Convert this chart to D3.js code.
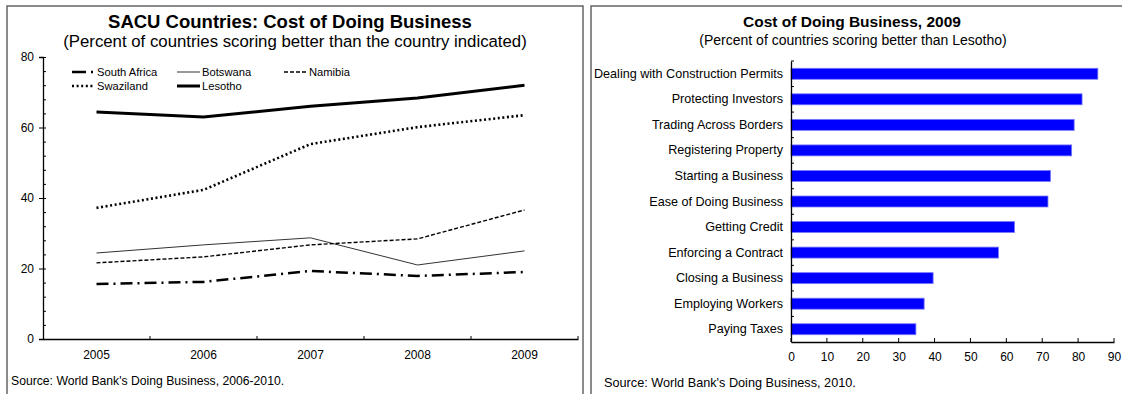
<!DOCTYPE html>
<html>
<head>
<meta charset="utf-8">
<script src="https://cdn.jsdelivr.net/npm/d3@7"></script>
<style>
  html, body { margin: 0; padding: 0; background: #fff; }
  svg { display: block; font-family: "Liberation Sans", Arial, sans-serif; }
  .domain { stroke: #000; }
</style>
</head>
<body>
<svg id="chart" width="1122" height="394"></svg>
<script>
// Left panel: SACU cost of doing business rankings
const years = ["2005", "2006", "2007", "2008", "2009"];
const yTicks = [0, 20, 40, 60, 80];
const southAfrica = [15.6, 16.2, 19.3, 17.9, 19.0];
const botswana    = [24.4, 26.7, 28.7, 21.0, 25.0];
const namibia     = [21.6, 23.3, 26.7, 28.4, 36.6];
const swaziland   = [37.2, 42.3, 55.3, 60.1, 63.5];
const lesotho     = [64.4, 63.0, 66.0, 68.4, 72.0];

// Right panel: Lesotho indicators, 2009
const indicators = [
  "Dealing with Construction Permits", "Protecting Investors", "Trading Across Borders",
  "Registering Property", "Starting a Business", "Ease of Doing Business", "Getting Credit",
  "Enforcing a Contract", "Closing a Business", "Employing Workers", "Paying Taxes"
];
const indicatorValues = [85.5, 81.1, 78.9, 78.2, 72.3, 71.6, 62.3, 57.8, 39.6, 37.1, 34.8];
const xTicks = [0, 10, 20, 30, 40, 50, 60, 70, 80, 90];

const svg = d3.select("#chart");
const font = '"Liberation Sans", Arial, sans-serif';

// Panel frames
svg.append("rect").attr("x", 7).attr("y", 6).attr("width", 576).attr("height", 400)
  .attr("fill", "none").attr("stroke", "#666").attr("stroke-width", 1.5);
svg.append("rect").attr("x", 591).attr("y", 6).attr("width", 540).attr("height", 400)
  .attr("fill", "none").attr("stroke", "#666").attr("stroke-width", 1.5);

// ---------- Left panel ----------
const L = svg.append("g");
L.append("text").attr("x", 290).attr("y", 28).attr("text-anchor", "middle")
  .attr("font-size", 18.5).attr("font-weight", "bold").text("SACU Countries: Cost of Doing Business");
L.append("text").attr("x", 295).attr("y", 47).attr("text-anchor", "middle")
  .attr("font-size", 16.8).text("(Percent of countries scoring better than the country indicated)");

const x = d3.scaleBand().domain(years).range([43, 578]);
const y = d3.scaleLinear().domain([0, 80]).range([339, 57]);

// minor ticks every 4 units, inside the plot
const minor = L.append("g").attr("transform", "translate(43,0)")
  .call(d3.axisRight(y).tickValues(d3.range(0, 81, 4)).tickSize(3).tickFormat(""));
minor.select(".domain").remove();
minor.selectAll("line").attr("stroke", "#000");

const yAx = L.append("g").attr("transform", "translate(43,0)")
  .call(d3.axisLeft(y).tickValues(yTicks).tickSize(4).tickPadding(5));
yAx.selectAll("text").attr("font-size", 12).attr("font-family", font).attr("fill", "#000");
yAx.selectAll("line").attr("stroke", "#000");
yAx.select(".domain").attr("stroke-width", 1.3);

const xAx = L.append("g").attr("transform", "translate(0,339)")
  .call(d3.axisBottom(x).tickSize(0).tickPadding(11));
xAx.selectAll("text").attr("font-size", 12).attr("font-family", font).attr("fill", "#000");
xAx.select(".domain").attr("stroke-width", 1.3);
// boundary ticks between years (pointing up)
L.append("g").selectAll("line").data(years.slice(1).concat(["end"])).join("line")
  .attr("x1", d => d === "end" ? x.range()[1] : x(d))
  .attr("x2", d => d === "end" ? x.range()[1] : x(d))
  .attr("y1", 339).attr("y2", 336).attr("stroke", "#000");

const seriesList = [
  { name: "South Africa", values: southAfrica, width: 2.5, dash: "12,5,2,5", color: "#000" },
  { name: "Botswana", values: botswana, width: 1, dash: null, color: "#333" },
  { name: "Namibia", values: namibia, width: 1.4, dash: "4,2", color: "#000" },
  { name: "Swaziland", values: swaziland, width: 2.6, dash: "2,2.6", color: "#000" },
  { name: "Lesotho", values: lesotho, width: 3, dash: null, color: "#000" }
];

const line = d3.line()
  .x((d, i) => x(years[i]) + x.bandwidth() / 2)
  .y(d => y(d));

L.append("g").selectAll("path").data(seriesList).join("path")
  .attr("d", s => line(s.values))
  .attr("fill", "none")
  .attr("stroke", s => s.color)
  .attr("stroke-width", s => s.width)
  .attr("stroke-dasharray", s => s.dash);

// Legend
const legendPos = [
  [72, 72], [177, 72], [284, 72],
  [72, 86], [177, 86]
];
const lg = L.append("g").selectAll("g").data(seriesList).join("g")
  .attr("transform", (s, i) => `translate(${legendPos[i][0]},${legendPos[i][1]})`);
lg.append("line").attr("x1", 0).attr("x2", 23)
  .attr("y1", 0).attr("y2", 0)
  .attr("stroke", s => s.color).attr("stroke-width", s => s.width)
  .attr("stroke-dasharray", s => s.name === "South Africa" ? "14,5,2,100" : s.dash);
lg.append("text").attr("x", 25).attr("y", 4).attr("font-size", 11.2)
  .text(s => s.name);

L.append("text").attr("x", 11).attr("y", 385).attr("font-size", 12.2)
  .text("Source: World Bank's Doing Business, 2006-2010.");

// ---------- Right panel ----------
const R = svg.append("g");
R.append("text").attr("x", 852).attr("y", 27).attr("text-anchor", "middle")
  .attr("font-size", 15.5).attr("font-weight", "bold").text("Cost of Doing Business, 2009");
R.append("text").attr("x", 853).attr("y", 45).attr("text-anchor", "middle")
  .attr("font-size", 14).text("(Percent of countries scoring better than Lesotho)");

const xr = d3.scaleLinear().domain([0, 90]).range([791, 1114]);
const yr = d3.scaleBand().domain(indicators).range([61, 342])
  .paddingInner(0.57).paddingOuter(0.285);

R.append("g").selectAll("rect").data(indicators).join("rect")
  .attr("x", xr(0))
  .attr("y", d => yr(d))
  .attr("width", (d, i) => xr(indicatorValues[i]) - xr(0))
  .attr("height", yr.bandwidth())
  .attr("fill", "#0000ff")
  .attr("stroke", "#7a7aff").attr("stroke-width", 0.8);

const xrAx = R.append("g").attr("transform", "translate(0,342)")
  .call(d3.axisBottom(xr).tickValues(xTicks).tickSize(0).tickPadding(10));
xrAx.selectAll("text").attr("font-size", 12).attr("font-family", font).attr("fill", "#000");
xrAx.select(".domain").attr("stroke-width", 1.3);
R.append("g").selectAll("line").data(xTicks).join("line")
  .attr("x1", d => xr(d)).attr("x2", d => xr(d))
  .attr("y1", 342).attr("y2", 338).attr("stroke", "#000");

const step = yr.step();
const yrAx = R.append("g").attr("transform", "translate(791,0)")
  .call(d3.axisLeft(yr).tickSize(0).tickPadding(8));
yrAx.selectAll("text").attr("font-size", 12.6).attr("font-family", font).attr("fill", "#000");
yrAx.select(".domain").attr("stroke-width", 1.3);
// category boundary ticks (pointing right)
R.append("g").selectAll("line").data(d3.range(indicators.length)).join("line")
  .attr("x1", 791).attr("x2", 794)
  .attr("y1", i => yr.range()[0] + i * step)
  .attr("y2", i => yr.range()[0] + i * step)
  .attr("stroke", "#000");

R.append("text").attr("x", 604).attr("y", 387).attr("font-size", 12.7)
  .text("Source: World Bank's Doing Business, 2010.");
</script>
</body>
</html>
